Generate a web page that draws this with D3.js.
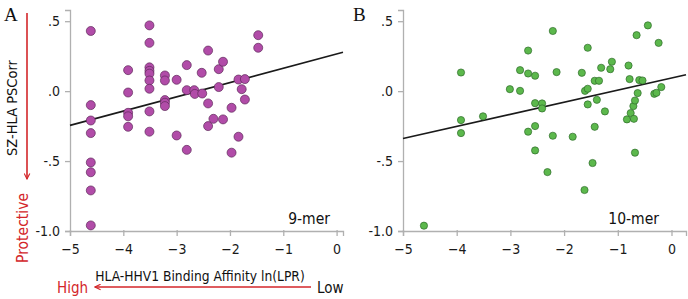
<!DOCTYPE html>
<html>
<head>
<meta charset="utf-8">
<script src="https://cdn.jsdelivr.net/npm/d3@7"></script>
<style>
  body { margin: 0; background: #fff; }
  svg text { font-family: "DejaVu Sans Condensed", "Liberation Sans Narrow", Roboto, sans-serif; }
  .tick text { fill: #1a1a1a; }
  .panel-letter { font-family: "Liberation Serif", "DejaVu Serif", serif !important; font-size: 19px; fill: #111; }
</style>
</head>
<body>
<div id="chart"></div>
<script>
(function () {
  "use strict";

  // ── Data ───────────────────────────────────────────
  // Panel A: 9-mer
  const nineX = [
    -4.61, -4.61, -4.61, -4.61, -4.61, -4.61, -4.61, -4.61,
    -3.91, -3.91, -3.91, -3.91, -3.91,
    -3.51, -3.51, -3.51, -3.51, -3.51, -3.51, -3.51, -3.51, -3.51,
    -3.22, -3.22, -3.22, -3.22, -3.22,
    -3.00, -3.00,
    -2.81, -2.81, -2.81,
    -2.67, -2.66,
    -2.53, -2.52,
    -2.41, -2.41, -2.41,
    -2.31,
    -2.21, -2.21,
    -2.13, -2.13,
    -1.97, -1.97,
    -1.84, -1.84,
    -1.78,
    -1.72, -1.72,
    -1.47, -1.47
  ];
  const nineY = [
    0.43, -0.10, -0.21, -0.30, -0.51, -0.58, -0.71, -0.96,
    0.15, -0.01, -0.155, -0.18, -0.255,
    0.47, 0.345, 0.17, 0.145, 0.125, 0.076, 0.017, -0.145, -0.29,
    0.112, 0.076, -0.064, -0.083, -0.107,
    0.081, -0.317,
    0.186, 0.007, -0.42,
    0.007, -0.02,
    0.131, -0.017,
    0.29, -0.088, -0.25,
    -0.198,
    0.157, 0.029,
    0.21, -0.202,
    -0.119, -0.44,
    0.083, -0.326,
    0.014,
    0.086, -0.06,
    0.40, 0.31
  ];
  const nineFit = { slope: 0.102, intercept: 0.265 };

  // Panel B: 10-mer
  const tenX = [
    -4.61,
    -3.92, -3.92, -3.92,
    -3.51,
    -3.01,
    -2.82, -2.82,
    -2.67, -2.67, -2.67,
    -2.54, -2.54, -2.54, -2.54,
    -2.41, -2.41,
    -2.31,
    -2.21, -2.21,
    -2.14,
    -1.84,
    -1.67,
    -1.62, -1.61,
    -1.56, -1.56, -1.56,
    -1.47,
    -1.43, -1.43,
    -1.39, -1.35, -1.31, -1.24, -1.14, -1.11,
    -0.83, -0.80, -0.78, -0.76, -0.71, -0.70,
    -0.68, -0.68,
    -0.65, -0.63, -0.60, -0.54, -0.44,
    -0.32, -0.28, -0.24, -0.19
  ];
  const tenY = [
    -0.962,
    0.133, -0.207, -0.30,
    -0.18,
    0.014,
    0.15, 0.002,
    0.29, 0.126, -0.29,
    0.11, -0.086, -0.25, -0.424,
    -0.088, -0.124,
    -0.579,
    0.43, -0.319,
    0.136,
    -0.326,
    0.131,
    -0.707, 0.002,
    0.31, 0.017, -0.095,
    -0.514,
    0.074, -0.255,
    -0.062, 0.074, 0.167, -0.145, 0.157, 0.21,
    -0.202, 0.183, 0.086, -0.157, -0.107, -0.198,
    -0.067, -0.44,
    0.40, -0.014, 0.079, 0.076, 0.47,
    -0.019, -0.012, 0.345, 0.029
  ];
  const tenFit = { slope: 0.0865, intercept: 0.094 };

  const xTicks = [-5, -4, -3, -2, -1, 0];
  const yTicks = [0.5, 0, -0.5, -1.0];
  const yTickLabels = [".5", ".0", "-.5", "-1.0"];

  // ── Layout ─────────────────────────────────────────
  const W = 688, H = 299;
  const AXIS = "#b0b0b0";
  const RED = "#d3262a";

  const svg = d3.select("#chart").append("svg")
    .attr("width", W).attr("height", H);

  const defs = svg.append("defs");
  defs.append("marker")
    .attr("id", "arr")
    .attr("viewBox", "0 0 10 10")
    .attr("refX", 9).attr("refY", 5)
    .attr("markerWidth", 7).attr("markerHeight", 7)
    .attr("markerUnits", "userSpaceOnUse")
    .attr("orient", "auto")
    .append("path")
    .attr("d", "M1,1 L9,5 L1,9")
    .attr("fill", "none")
    .attr("stroke", RED)
    .attr("stroke-width", 1.6);

  const panels = [
    { letter: "A", letterX: 4, left: 70, right: 343, xMax: 0.12, xs: nineX, ys: nineY, fit: nineFit,
      fill: "#b14ca8", stroke: "#5e2a5a", r: 4.5, label: "9-mer", labelX: 330 },
    { letter: "B", letterX: 353, left: 403, right: 686, xMax: 0.27, xs: tenX, ys: tenY, fit: tenFit,
      fill: "#5cb84c", stroke: "#2e6b2a", r: 3.6, label: "10-mer", labelX: 659 }
  ];

  const top = 10, bottom = 231;

  panels.forEach(p => {
    const x = d3.scaleLinear().domain([-5, p.xMax]).range([p.left, p.right]);
    const y = d3.scaleLinear().domain([-1.0, 0.58]).range([bottom, top]);
    const g = svg.append("g");

    // axes
    const gx = g.append("g").attr("transform", `translate(0,${bottom})`)
      .call(d3.axisBottom(x).tickValues(xTicks).tickSize(5).tickPadding(8)
        .tickFormat(d3.format("d")));
    const gy = g.append("g").attr("transform", `translate(${p.left},0)`)
      .call(d3.axisLeft(y).tickValues(yTicks).tickSize(5).tickPadding(5)
        .tickFormat((d, i) => yTickLabels[i]));
    [gx, gy].forEach(a => {
      a.select(".domain").attr("stroke", AXIS).attr("stroke-width", 1.3);
      a.selectAll(".tick line").attr("stroke", AXIS).attr("stroke-width", 1.3);
      a.selectAll(".tick text").attr("font-size", 14);
    });
    gx.selectAll(".tick line").attr("y1", -1);

    // regression line
    const x0 = -5, x1 = p.xMax;
    g.append("line")
      .attr("x1", x(x0)).attr("y1", y(p.fit.intercept + p.fit.slope * x0))
      .attr("x2", x(x1)).attr("y2", y(p.fit.intercept + p.fit.slope * x1))
      .attr("stroke", "#1a1a1a").attr("stroke-width", 1.6);

    // points
    g.selectAll("circle").data(p.xs.map((v, i) => [v, p.ys[i]]))
      .enter().append("circle")
      .attr("cx", d => x(d[0]))
      .attr("cy", d => y(d[1]))
      .attr("r", p.r)
      .attr("fill", p.fill)
      .attr("stroke", p.stroke)
      .attr("stroke-width", 0.7);

    // in-plot label
    g.append("text")
      .attr("x", p.labelX).attr("y", 224)
      .attr("text-anchor", "end")
      .attr("font-size", 15.5)
      .attr("fill", "#111")
      .text(p.label);

    // panel letter
    svg.append("text").attr("class", "panel-letter")
      .attr("x", p.letterX).attr("y", 21)
      .text(p.letter);
  });

  // ── Y-axis title and "Protective" arrow (panel A) ───
  svg.append("text")
    .attr("transform", "translate(17,108) rotate(-90)")
    .attr("text-anchor", "middle")
    .attr("font-size", 14.5)
    .attr("fill", "#111")
    .text("SZ-HLA PSCorr");

  svg.append("line")
    .attr("x1", 27).attr("y1", 13)
    .attr("x2", 27).attr("y2", 179)
    .attr("stroke", RED).attr("stroke-width", 1.6)
    .attr("marker-end", "url(#arr)");

  svg.append("text")
    .attr("transform", "translate(28,228) rotate(-90)")
    .attr("text-anchor", "middle")
    .attr("font-size", 15.5)
    .attr("fill", RED)
    .text("Protective");

  // ── X-axis title and High/Low arrow ────────────────
  svg.append("text")
    .attr("x", 200).attr("y", 281)
    .attr("text-anchor", "middle")
    .attr("font-size", 13.7)
    .attr("fill", "#111")
    .text("HLA-HHV1 Binding Affinity ln(LPR)");

  svg.append("line")
    .attr("x1", 311).attr("y1", 287)
    .attr("x2", 95).attr("y2", 287)
    .attr("stroke", RED).attr("stroke-width", 1.6)
    .attr("marker-end", "url(#arr)");

  svg.append("text")
    .attr("x", 57).attr("y", 293)
    .attr("font-size", 15)
    .attr("fill", RED)
    .text("High");

  svg.append("text")
    .attr("x", 317).attr("y", 293)
    .attr("font-size", 15)
    .attr("fill", "#111")
    .text("Low");
})();
</script>
</body>
</html>
